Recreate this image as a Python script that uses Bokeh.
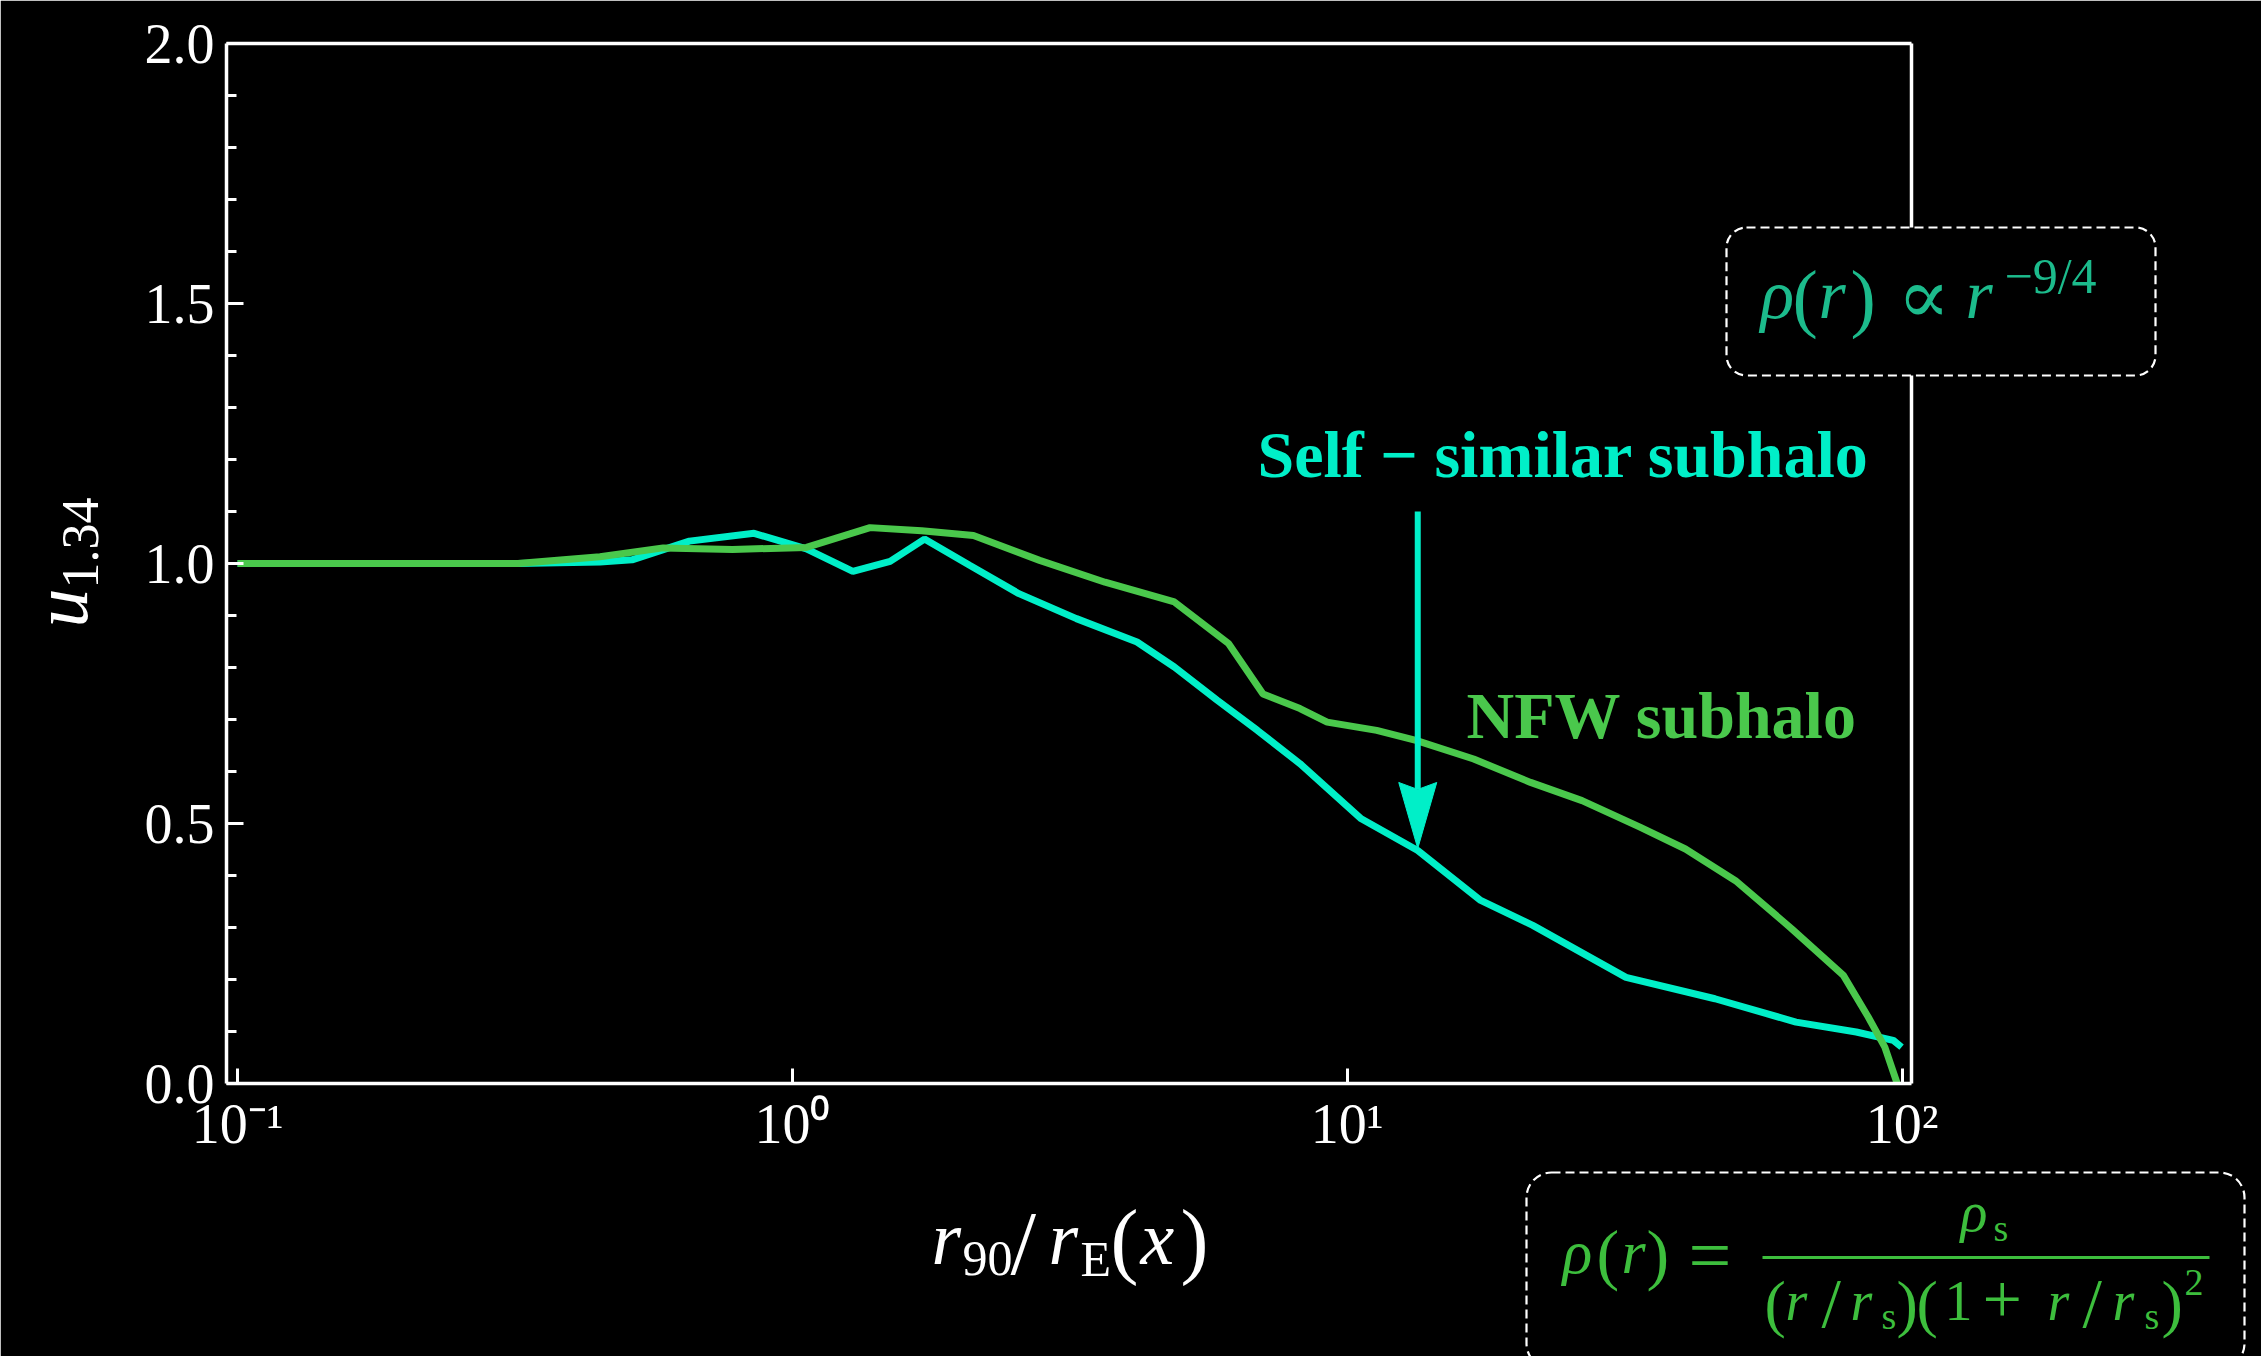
import math
from bokeh.plotting import figure
from bokeh.models import FixedTicker, LinearAxis, LogAxis, PrintfTickFormatter
from bokeh.core.properties import value
from bokeh.embed import file_html
from bokeh.resources import INLINE

# ---------------- data ----------------
nfw_x = [0.1, 0.2, 0.32, 0.45, 0.585, 0.78, 1.06, 1.38, 1.71, 2.12, 2.79, 3.66, 4.88,
         6.11, 7.05, 8.22, 9.2, 11.3, 13.3, 16.9, 21.4, 26.5, 33.7, 40.7, 50.1, 63.2,
         78.4, 86.9, 93.1, 98.0]
nfw_y = [1.0, 1.0, 1.0, 1.013, 1.030, 1.027, 1.031, 1.069, 1.063, 1.054, 1.006, 0.964, 0.926,
         0.846, 0.749, 0.721, 0.695, 0.679, 0.660, 0.624, 0.579, 0.544, 0.493, 0.451, 0.390, 0.298,
         0.208, 0.128, 0.070, 0.0]

ss_x = [0.1, 0.2, 0.32, 0.45, 0.514, 0.652, 0.853, 1.06, 1.285, 1.50, 1.73, 2.09, 2.56,
        3.25, 4.18, 4.88, 5.83, 6.89, 8.22, 10.6, 13.4, 17.4, 21.6, 31.8, 46.0, 64.4,
        82.7, 96.4, 99.8]
ss_y = [1.0, 1.0, 1.0, 1.003, 1.007, 1.043, 1.058, 1.028, 0.985, 1.004, 1.047, 0.996, 0.942,
        0.894, 0.849, 0.801, 0.737, 0.679, 0.615, 0.509, 0.448, 0.352, 0.304, 0.204, 0.163, 0.118,
        0.099, 0.083, 0.070]

x_ticks = [0.1, 1, 10, 100]
x_tick_labels = ["10\u207b\u00b9", "10\u2070", "10\u00b9", "10\u00b2"]
y_ticks = [0.0, 0.5, 1.0, 1.5, 2.0]
y_minor = [0.1, 0.2, 0.3, 0.4, 0.6, 0.7, 0.8, 0.9, 1.1, 1.2, 1.3, 1.4, 1.6, 1.7, 1.8, 1.9]

arrow_x = [13.4, 13.4]
arrow_y = [1.10, 0.452]

# ---------------- style / geometry ----------------
W, H = 2261, 1356
FL, FR, FT, FB = 226, 1911, 43, 1083
X0, X1 = 0.0955, 104.0
Y0, Y1 = 0.0, 2.0
CYAN = "#00EFC8"
GREEN = "#4AC84C"
TEAL = "#1CBB8C"
FGREEN = "#3DBE3D"
SERIF = "Liberation Serif"
MID = 0.34  # distance (in em) from text-box middle to the alphabetic baseline

XPD = (FR - FL) / math.log10(X1 / X0)   # px per decade
YPU = (FB - FT) / (Y1 - Y0)             # px per unit


def px2x(px):
    return 10 ** (math.log10(X0) + (px - FL) / XPD)


def px2y(py):
    return Y0 + (FB - py) / YPU


p = figure(width=W, height=H, x_axis_type="log", x_range=(X0, X1), y_range=(Y0, Y1),
           output_backend="svg", toolbar_location=None,
           min_border_left=FL, min_border_right=W - FR, min_border_top=FT, min_border_bottom=H - FB,
           background_fill_color="black", border_fill_color="black", outline_line_color=None)
p.grid.visible = False

xa = p.xaxis[0]
xa.ticker = FixedTicker(ticks=x_ticks, minor_ticks=[])
xa.major_label_overrides = {t: s for t, s in zip(x_ticks, x_tick_labels)}
ya = p.yaxis[0]
ya.ticker = FixedTicker(ticks=y_ticks, minor_ticks=y_minor)
ya.formatter = PrintfTickFormatter(format="%.1f")

for ax in (xa, ya):
    ax.axis_line_color = "white"
    ax.axis_line_width = 3.5
    ax.major_tick_line_color = "white"
    ax.major_tick_line_width = 3
    ax.minor_tick_line_color = "white"
    ax.minor_tick_line_width = 3
    ax.major_tick_out = 0
    ax.minor_tick_out = 0
    ax.major_label_text_color = "white"
    ax.major_label_text_font = SERIF
    ax.major_label_text_font_size = "56px"
xa.major_tick_in = 15
xa.minor_tick_in = 0
xa.major_label_standoff = 9
ya.major_tick_in = 17
ya.minor_tick_in = 10
ya.major_label_standoff = 12

# frame lines on top and right (as tick-less axes)
for side, Ax in (("right", LinearAxis), ("above", LogAxis)):
    a = Ax(ticker=FixedTicker(ticks=[], minor_ticks=[]), axis_line_color="white", axis_line_width=3.5,
           major_tick_line_color=None, minor_tick_line_color=None, major_label_text_alpha=0)
    p.add_layout(a, side)

# curves
p.line(ss_x, ss_y, line_color=CYAN, line_width=7)
p.line(nfw_x, nfw_y, line_color=GREEN, line_width=7)

# arrow
HEAD_LEN = 66 / YPU
HEAD_HALF = 10 ** (19 / XPD)
NOTCH = 7 / YPU
tip = arrow_y[1]
base = tip + HEAD_LEN
ax_ = arrow_x[0]
p.line(arrow_x, [arrow_y[0], base - NOTCH], line_color=CYAN, line_width=6)
p.patch([ax_ / HEAD_HALF, ax_, ax_ * HEAD_HALF, ax_], [base, tip, base, base - NOTCH],
        fill_color=CYAN, line_color=CYAN, line_width=1)


def txt(s, px, py, size, color, style="normal", angle=0.0, font=SERIF):
    """px, py: screen position of the left end of the text's baseline."""
    if angle == 0:
        ax_px, ay_px = px, py - MID * size
    else:  # rotated 90 deg counter-clockwise, baseline vertical at x = px, text starts at y = py
        ax_px, ay_px = px - MID * size, py
    p.text(x=[px2x(ax_px)], y=[px2y(ay_px)], text=[s], text_font=value(font),
           text_font_size=f"{size}px", text_color=color, text_font_style=style,
           text_align="left", text_baseline="middle", angle=angle, level="overlay")


def rbox(l, r, t, b, radius, **kw):
    args = dict(left=[px2x(l)], right=[px2x(r)], top=[px2y(t)], bottom=[px2y(b)], level="overlay")
    args.update(kw)
    try:
        p.quad(border_radius=radius, **args)
    except Exception:
        p.quad(**args)


# annotation texts
txt("Self \u2212 similar subhalo", 1257, 476, 66, CYAN, "bold")
txt("NFW subhalo", 1466, 737, 66, GREEN, "bold")

# axis titles
txt("r", 931, 1263, 76, "white", "italic")
txt("90", 962, 1275, 50, "white")
txt("/", 1010, 1274, 92, "white")
txt("r", 1048, 1263, 76, "white", "italic")
txt("E", 1080, 1275, 50, "white")
txt("(", 1110, 1268, 84, "white")
txt("x", 1140, 1263, 76, "white", "italic")
txt(")", 1180, 1268, 84, "white")

txt("u", 87, 627, 78, "white", "italic", angle=math.pi / 2)
txt("1.34", 98, 588, 52, "white", angle=math.pi / 2)

# box 1
rbox(1726, 2155, 227, 375, 20, fill_color="black", line_color="white", line_width=2.2, line_dash="9 5")
txt("\u03c1", 1760, 318, 70, TEAL, "italic")
txt("(", 1792, 322, 76, TEAL)
txt("r", 1818, 318, 70, TEAL, "italic")
txt(")", 1850, 322, 76, TEAL)
txt("\u221d", 1897, 322, 78, TEAL, font="DejaVu Serif")
txt("r", 1965, 318, 70, TEAL, "italic")
txt("\u22129/4", 2004, 292, 50, TEAL)

# box 2
rbox(1526, 2244, 1172, 1368, 25, fill_color="black", line_color="white", line_width=2.2, line_dash="9 5")
txt("\u03c1", 1562, 1273, 62, FGREEN, "italic")
txt("(", 1596, 1277, 68, FGREEN)
txt("r", 1621, 1273, 62, FGREEN, "italic")
txt(")", 1646, 1277, 68, FGREEN)
txt("=", 1688, 1280, 76, FGREEN)
p.quad(left=[px2x(1762)], right=[px2x(2209)], top=[px2y(1255.5)], bottom=[px2y(1258.5)],
       fill_color=FGREEN, line_color=None, level="overlay")
txt("\u03c1", 1960, 1231, 56, FGREEN, "italic")
txt("s", 1993, 1240, 38, FGREEN)
den = [("r", 1785, 1), ("r", 1850, 1), ("1", 1944, 0), ("r", 2047, 1), ("r", 2112, 1)]
for s, xx, it in den:
    txt(s, xx, 1320, 56, FGREEN, "italic" if it else "normal")
for s, xx in [("(", 1764), (")", 1896), ("(", 1916), (")", 2161)]:
    txt(s, xx, 1325, 64, FGREEN)
for xx in (1821, 2082):
    txt("/", xx, 1327, 70, FGREEN)
txt("s", 1881, 1328, 38, FGREEN)
txt("s", 2144, 1328, 38, FGREEN)
txt("+", 1982, 1323, 70, FGREEN)
txt("2", 2184, 1295, 38, FGREEN)

open("out.html", "w").write(file_html(p, INLINE))
